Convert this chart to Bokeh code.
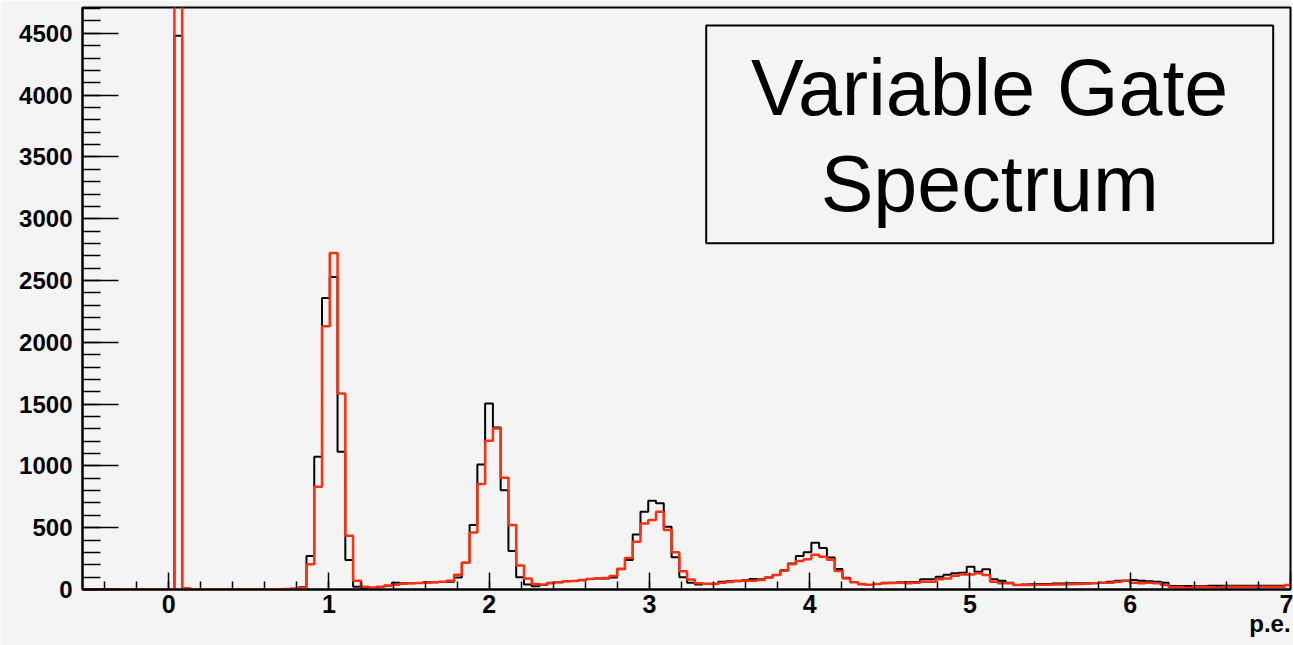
import numpy as np
from bokeh.plotting import figure
from bokeh.models import Range1d, FixedTicker, Label, BoxAnnotation, LinearAxis
from bokeh.embed import file_html
from bokeh.resources import INLINE

# ---------------- data ----------------
bin_lo = -0.546      # low edge of first bin (p.e.)
bin_w = 0.04847      # bin width (p.e.)

black_counts = (
    [0] * 12 +
    [4480, 13, 3] + [0] * 9 + [0, 2, 5, 6, 19,
     271, 1074, 2359, 2529, 1114, 238, 23, 15, 15, 20,
     30, 55, 50, 50, 52, 58, 58, 60, 63, 98,
     217, 521, 1012, 1505, 1311, 804, 311, 100, 40, 27,
     36, 55, 58, 66, 68, 75, 85, 88, 90, 98,
     163, 238, 446, 629, 718, 697, 508, 260, 100, 55,
     40, 44, 47, 63, 66, 66, 75, 85, 82, 98,
     117, 155, 210, 271, 302, 378, 335, 258, 165, 95,
     60, 42, 36, 45, 55, 55, 58, 58, 60, 82,
     82, 104, 120, 131, 136, 184, 144, 163, 82, 71,
     55, 36, 40, 42, 44, 44, 48, 48, 50, 50,
     50, 52, 55, 63, 71, 71, 77, 71, 66, 63,
     55, 28, 28, 28, 28, 28, 31, 31, 31, 31,
     31, 31, 31, 31, 31, 31, 36]
)

red_counts = (
    [0] * 12 +
    [5200, 10, 3] + [0] * 9 + [2, 2, 4, 6, 15,
     204, 831, 2130, 2723, 1586, 435, 71, 23, 15, 23,
     33, 39, 47, 50, 53, 55, 58, 63, 71, 120,
     217, 462, 853, 1203, 1303, 904, 521, 195, 88, 44,
     40, 50, 58, 66, 68, 77, 85, 88, 93, 109,
     168, 255, 387, 535, 562, 629, 481, 302, 148, 80,
     50, 47, 44, 55, 61, 71, 70, 70, 77, 98,
     117, 152, 204, 230, 245, 282, 265, 240, 150, 90,
     58, 45, 38, 45, 50, 53, 55, 50, 55, 63,
     63, 82, 90, 112, 122, 122, 131, 117, 63, 50,
     50, 36, 36, 36, 38, 38, 40, 40, 42, 44,
     46, 50, 55, 55, 63, 71, 55, 50, 55, 50,
     36, 20, 20, 15, 23, 23, 18, 15, 23, 23,
     23, 23, 23, 23, 23, 23, 36]
)

x_ticks = [0, 1, 2, 3, 4, 5, 6, 7]
y_ticks = [0, 500, 1000, 1500, 2000, 2500, 3000, 3500, 4000, 4500]
title_lines = ["Variable Gate", "Spectrum"]
x_title = "p.e."

# ---------------- figure ----------------
BG = "#f4f4f4"
FONT = "Liberation Sans"
RED = "#ff3010"

p = figure(width=1293, height=645, output_backend="svg", toolbar_location=None,
           x_range=Range1d(-0.538, 7.0), y_range=Range1d(0, 4709),
           min_border_left=82, min_border_right=3, min_border_top=7,
           min_border_bottom=56)
p.background_fill_color = BG
p.border_fill_color = BG
p.outline_line_color = "black"
p.outline_line_width = 2
p.xgrid.visible = False
p.ygrid.visible = False

xa = p.xaxis[0]
xa.ticker = FixedTicker(ticks=x_ticks,
                        minor_ticks=[round(v, 2) for v in np.arange(-0.4, 7.0, 0.2)])
xa.major_tick_in = 17
xa.major_tick_out = 0
xa.minor_tick_in = 8
xa.minor_tick_out = 0
xa.axis_line_width = 2
xa.axis_line_color = "black"
xa.major_tick_line_width = 1.5
xa.minor_tick_line_width = 1.5
xa.major_tick_line_color = "black"
xa.minor_tick_line_color = "black"
xa.major_label_text_font = FONT
xa.major_label_text_font_style = "bold"
xa.major_label_text_font_size = "25px"
xa.major_label_text_color = "black"
xa.major_label_standoff = 5

ya = p.yaxis[0]
ya.ticker = FixedTicker(ticks=y_ticks, minor_ticks=list(range(0, 4701, 100)))
ya.major_tick_in = 36
ya.major_tick_out = 0
ya.minor_tick_in = 18
ya.minor_tick_out = 0
ya.axis_line_width = 2
ya.axis_line_color = "black"
ya.major_tick_line_width = 1.5
ya.minor_tick_line_width = 1.5
ya.major_tick_line_color = "black"
ya.minor_tick_line_color = "black"
ya.major_label_text_font = FONT
ya.major_label_text_font_style = "bold"
ya.major_label_text_font_size = "24px"
ya.major_label_text_color = "black"
ya.major_label_standoff = 10

# axis title "p.e." at the right end, below the tick labels
p.extra_x_ranges = {"pe": Range1d(0, 1000)}
pe_axis = LinearAxis(x_range_name="pe", ticker=FixedTicker(ticks=[983]),
                     major_label_overrides={983: x_title})
pe_axis.axis_line_color = None
pe_axis.major_tick_line_color = None
pe_axis.minor_tick_line_color = None
pe_axis.major_tick_out = 0
pe_axis.major_tick_in = 0
pe_axis.minor_tick_out = 0
pe_axis.minor_tick_in = 0
pe_axis.major_label_text_font = FONT
pe_axis.major_label_text_font_style = "bold"
pe_axis.major_label_text_font_size = "24px"
pe_axis.major_label_text_color = "black"
pe_axis.major_label_standoff = -6
p.add_layout(pe_axis, "below")

# ---------------- histograms ----------------
n = len(black_counts)
edges = bin_lo + bin_w * np.arange(n + 1)
p.step(edges, black_counts + [black_counts[-1]], mode="after",
       line_color="black", line_width=2)
p.step(edges, red_counts + [red_counts[-1]], mode="after",
       line_color=RED, line_width=2.5)

# ---------------- title box ----------------
p.add_layout(BoxAnnotation(left=3.354, right=6.892, bottom=2801, top=4563,
                           fill_color=None, fill_alpha=0,
                           line_color="black", line_alpha=1.0, line_width=2))
for txt, yy in zip(title_lines, [4062, 3286]):
    p.add_layout(Label(x=5.123, y=yy, text=txt, text_align="center",
                       text_baseline="alphabetic", text_font=FONT,
                       text_font_size="79px", text_color="black"))

open("out.html", "w").write(file_html(p, INLINE))
